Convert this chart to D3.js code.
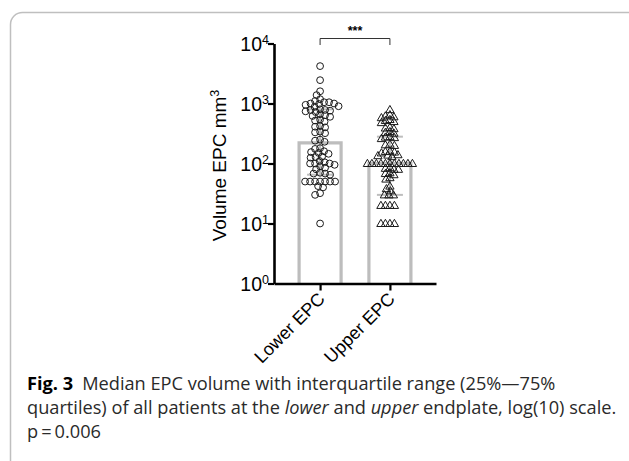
<!DOCTYPE html>
<html><head><meta charset="utf-8">
<script src="https://cdn.jsdelivr.net/npm/d3@7"></script>
<style>body{margin:0;background:#fff} svg{display:block}</style>
</head><body><svg id="c" width="629" height="461"></svg>
<script>
const categories = ["Lower EPC", "Upper EPC"];
const lowerValues = [4200, 2450, 1600, 1380, 1180, 1100, 1050, 1050, 1000, 1000, 980, 950, 900, 880, 800, 780, 780, 760, 740, 720, 660, 640, 620, 600, 540, 520, 500, 420, 410, 400, 340, 330, 320, 250, 240, 230, 180, 175, 160, 155, 150, 145, 130, 128, 125, 110, 105, 100, 100, 100, 95, 90, 85, 80, 70, 68, 68, 65, 50, 50, 50, 50, 50, 50, 50, 42, 40, 32, 30, 10];
const upperValues = [790, 650, 620, 600, 580, 540, 520, 500, 480, 400, 390, 380, 340, 330, 320, 280, 275, 270, 260, 210, 205, 200, 160, 158, 155, 150, 140, 138, 135, 130, 100, 100, 100, 100, 100, 100, 100, 100, 100, 100, 100, 85, 83, 80, 80, 70, 68, 65, 58, 55, 42, 38, 35, 30, 30, 30, 20, 20, 20, 20, 10, 10, 10, 10];
const medians = [220, 100];
const q1 = [65, 30];
const q3 = [800, 280];
const yTicks = [1, 10, 100, 1000, 10000];
const yTickBase = "10";
const yTickExp = ["0", "1", "2", "3", "4"];
const yTitle = "Volume EPC mm";
const yTitleSup = "3";
const sigLabel = "***";

const svg = d3.select("#c");
const FONT = "'Liberation Sans', Arial, sans-serif";
const CAPFONT = "'Open Sans', 'Noto Sans', sans-serif";

svg.append("rect").attr("x", 10.5).attr("y", 12.5).attr("width", 660).attr("height", 500)
  .attr("rx", 12).attr("fill", "none").attr("stroke", "#bfbfbf").attr("stroke-width", 1.5);

const y = d3.scaleLog().domain([1, 10000]).range([283.5, 43.5]);
const x = d3.scalePoint().domain(categories).range([274, 436]).padding(0.66);

const g = svg.append("g");
const barW = 42;

categories.forEach((c, i) => {
  const cx = x(c);
  g.append("path")
    .attr("d", `M${cx - barW/2},${y(1)} V${y(medians[i])} H${cx + barW/2} V${y(1)}`)
    .attr("fill", "none").attr("stroke", "#bdbdbd").attr("stroke-width", 3.2);
  g.append("line").attr("x1", cx).attr("x2", cx).attr("y1", y(q1[i])).attr("y2", y(q3[i]))
    .attr("stroke", "#bdbdbd").attr("stroke-width", 2);
  [q1[i], q3[i]].forEach(v => {
    g.append("line").attr("x1", cx - 13).attr("x2", cx + 13).attr("y1", y(v)).attr("y2", y(v))
      .attr("stroke", "#bdbdbd").attr("stroke-width", 2);
  });
});

function swarm(values, cx, d) {
  const pts = values.map(v => ({v, y: y(v)})).sort((a, b) => a.y - b.y);
  const placed = [];
  pts.forEach(p => {
    let best = cx;
    for (let k = 0; k < 300; k++) {
      const off = (k % 2 === 0 ? 1 : -1) * Math.ceil(k / 2) * 0.5;
      const px = cx + off;
      if (placed.every(q => (q.x - px) ** 2 + (q.y - p.y) ** 2 >= d * d)) { best = px; break; }
    }
    p.x = best;
    placed.push(p);
  });
  return placed;
}
const lowerPts = swarm(lowerValues, x(categories[0]), 4.9);
const upperPts = swarm(upperValues, x(categories[1]), 4.2);

g.selectAll("circle.pt").data(lowerPts).join("circle").attr("class", "pt")
  .attr("cx", d => d.x).attr("cy", d => d.y).attr("r", 3.4)
  .attr("fill", "none").attr("stroke", "#1a1a1a").attr("stroke-width", 1);
const tri = d3.symbol().type(d3.symbolTriangle).size(30);
g.selectAll("path.tr").data(upperPts).join("path").attr("class", "tr")
  .attr("transform", d => `translate(${d.x},${d.y + 0.6})`).attr("d", tri)
  .attr("fill", "none").attr("stroke", "#1a1a1a").attr("stroke-width", 1);

const yAxis = svg.append("g").attr("transform", "translate(274,0)")
  .call(d3.axisLeft(y).tickValues(yTicks).tickFormat(() => "").tickSize(6).tickSizeOuter(0));
yAxis.select(".domain").attr("stroke", "#000").attr("stroke-width", 2.6);
yAxis.selectAll(".tick line").attr("stroke", "#000").attr("stroke-width", 2.2);
yAxis.selectAll(".tick").each(function(d, i) {
  const t = d3.select(this).append("text").attr("x", -5).attr("dy", "0.36em")
    .attr("text-anchor", "end").attr("fill", "#000").style("font-family", FONT).style("font-size", "19.5px");
  t.append("tspan").text(yTickBase);
  t.append("tspan").attr("dy", "-0.55em").style("font-size", "12.5px").text(yTickExp[i]);
});

const xAxis = svg.append("g").attr("transform", `translate(0,${y(1)})`)
  .call(d3.axisBottom(x).tickSize(7).tickSizeOuter(0));
xAxis.select(".domain").attr("stroke", "#000").attr("stroke-width", 2.6);
xAxis.selectAll(".tick line").attr("stroke", "#000").attr("stroke-width", 2.2);
xAxis.selectAll(".tick text").attr("fill", "#000").style("font-family", FONT).style("font-size", "18px")
  .attr("text-anchor", "end").attr("transform", "translate(1,12) rotate(-45)").attr("y", 0).attr("dy", "0.35em").attr("x", 0);

const yt = svg.append("text").attr("transform", `translate(226,${(y(1)+y(10000))/2 + 2}) rotate(-90)`)
  .attr("text-anchor", "middle").attr("fill", "#000").style("font-family", FONT).style("font-size", "19px");
yt.append("tspan").text(yTitle);
yt.append("tspan").attr("dy", "-0.6em").style("font-size", "12.5px").text(yTitleSup);

const x0 = x(categories[0]), x1 = x(categories[1]);
svg.append("path").attr("d", `M${x0},45 V38.5 H${x1} V45`).attr("fill", "none")
  .attr("stroke", "#333").attr("stroke-width", 1);
svg.append("text").attr("x", (x0 + x1) / 2).attr("y", 35).attr("text-anchor", "middle")
  .style("font-family", FONT).style("font-size", "12.5px").style("font-weight", "bold").text(sigLabel);

const cap = svg.append("g").style("font-family", CAPFONT).attr("fill", "#2a2a2a");
const capSize = 16.5;
const l1 = cap.append("text").attr("x", 27).attr("y", 390).style("font-size", capSize + "px");
l1.append("tspan").style("font-weight", "bold").attr("fill", "#000").text("Fig. 3");
l1.append("tspan").text("\u2002Median EPC volume with interquartile range (25%—75%");
const l2 = cap.append("text").attr("x", 27).attr("y", 414).style("font-size", capSize + "px");
l2.append("tspan").text("quartiles) of all patients at the ");
l2.append("tspan").style("font-style", "italic").text("lower");
l2.append("tspan").text(" and ");
l2.append("tspan").style("font-style", "italic").text("upper");
l2.append("tspan").text(" endplate, log(10) scale.");
const l3 = cap.append("text").attr("x", 27).attr("y", 438).style("font-size", capSize + "px");
l3.append("tspan").text("p\u2009=\u20090.006");
const w2 = l2.node().getComputedTextLength();
const s = 590 / w2;
[l1, l2, l3].forEach(t => t.style("font-size", (capSize * s) + "px"));
</script></body></html>
